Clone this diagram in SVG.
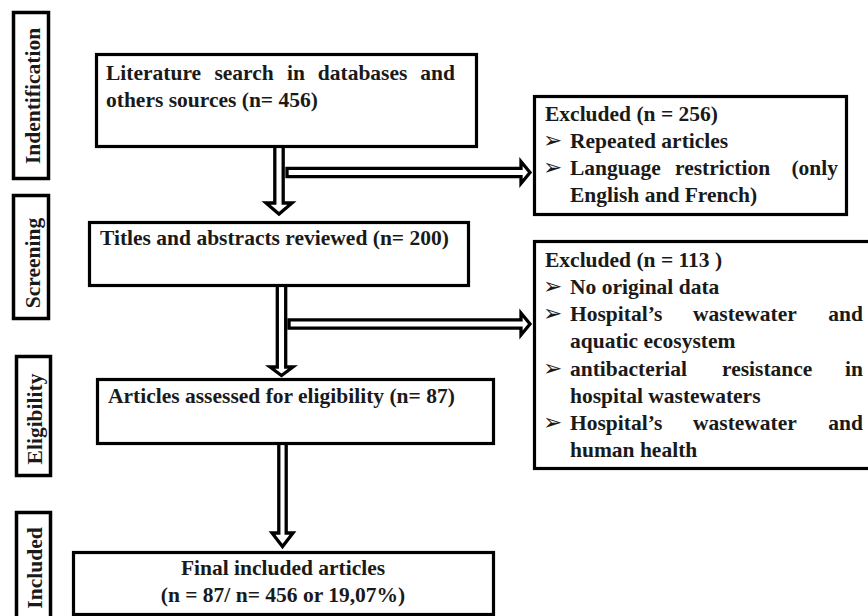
<svg xmlns="http://www.w3.org/2000/svg" width="868" height="616" viewBox="0 0 868 616">
<style>
.box{fill:#fff;stroke:#000;stroke-width:3.2}
.lbl{fill:none;stroke:#000;stroke-width:3.5}
.t{font-family:"Liberation Serif","Times New Roman",serif;font-weight:bold;font-size:21.5px;fill:#1a1a1a}
.b{font-family:"DejaVu Sans",sans-serif;font-size:23px;fill:#1a1a1a}
.arr{fill:#fff;stroke:#000;stroke-width:3.3;stroke-linejoin:miter}
</style>
<rect width="868" height="616" fill="#fff"/>
<g id="stage-labels">
<g id="lbl-identification"><rect class="lbl" x="13.5" y="12.5" width="35" height="166"/><text class="t" text-anchor="middle" transform="translate(40,96) rotate(-90)">Indentification</text></g>
<g id="lbl-screening"><rect class="lbl" x="13.5" y="195.5" width="35" height="123"/><text class="t" text-anchor="middle" transform="translate(40,263) rotate(-90)">Screening</text></g>
<g id="lbl-eligibility"><rect class="lbl" x="16.5" y="356.5" width="34" height="119"/><text class="t" text-anchor="middle" transform="translate(42,419) rotate(-90)">Eligibility</text></g>
<g id="lbl-included"><rect class="lbl" x="16.5" y="512.5" width="34" height="110"/><text class="t" text-anchor="middle" transform="translate(42,568) rotate(-90)">Included</text></g>
</g>
<g id="connectors">
<path class="arr" d="M274.8,146 L283.2,146 L283.2,203 L292,203 L279,214 L266,203 L274.8,203 Z"/>
<path class="arr" d="M287,168.3 L521,168.3 L521,161.5 L530,172.5 L521,183.5 L521,176.7 L287,176.7 Z"/>
<path class="arr" d="M277.3,284 L285.7,284 L285.7,367 L293,367 L281.5,375.5 L270,367 L277.3,367 Z"/>
<path class="arr" d="M289,319.8 L521,319.8 L521,313 L530,324 L521,335 L521,328.2 L289,328.2 Z"/>
<path class="arr" d="M278.8,443 L286.2,443 L286.2,533 L293,533 L282.5,546.5 L272,533 L278.8,533 Z"/>
</g>
<g id="n-search">
<rect class="box" x="96.5" y="54.5" width="380" height="92"/>
<text class="t" y="80"><tspan x="106">Literature</tspan><tspan x="214.4">search</tspan><tspan x="287">in</tspan><tspan x="317.8">databases</tspan><tspan x="420.3">and</tspan></text>
<text class="t" x="106" y="107">others sources (n= 456)</text>
</g>
<g id="n-excluded1">
<rect class="box" x="534.5" y="96.5" width="312" height="118"/>
<text class="t" x="545" y="121">Excluded (n = 256)</text>
<text class="b" x="543" y="148">➢</text><text class="t" x="570" y="148">Repeated articles</text>
<text class="b" x="543" y="175">➢</text>
<text class="t" y="175"><tspan x="570">Language</tspan><tspan x="675">restriction</tspan></text>
<text class="t" x="838" y="175" text-anchor="end">(only</text>
<text class="t" x="570" y="202">English and French)</text>
</g>
<g id="n-titles">
<rect class="box" x="89.5" y="222.5" width="379" height="63"/>
<text class="t" x="100" y="245">Titles and abstracts reviewed (n= 200)</text>
</g>
<g id="n-excluded2">
<rect class="box" x="534.5" y="241.5" width="400" height="227"/>
<text class="t" x="545" y="267">Excluded (n = 113 )</text>
<text class="b" x="543" y="294">➢</text><text class="t" x="570" y="294">No original data</text>
<text class="b" x="543" y="321">➢</text>
<text class="t" y="321"><tspan x="570">Hospital’s</tspan><tspan x="693">wastewater</tspan></text>
<text class="t" x="863" y="321" text-anchor="end">and</text>
<text class="t" x="570" y="348">aquatic ecosystem</text>
<text class="b" x="543" y="376">➢</text>
<text class="t" y="376"><tspan x="570">antibacterial</tspan><tspan x="722">resistance</tspan></text>
<text class="t" x="863" y="376" text-anchor="end">in</text>
<text class="t" x="570" y="403">hospital wastewaters</text>
<text class="b" x="543" y="430">➢</text>
<text class="t" y="430"><tspan x="570">Hospital’s</tspan><tspan x="693">wastewater</tspan></text>
<text class="t" x="863" y="430" text-anchor="end">and</text>
<text class="t" x="570" y="457">human health</text>
</g>
<g id="n-eligibility">
<rect class="box" x="97.5" y="379.5" width="396" height="64"/>
<text class="t" x="108" y="403">Articles assessed for eligibility (n= 87)</text>
</g>
<g id="n-included">
<rect class="box" x="73.5" y="552.5" width="420" height="62"/>
<text class="t" x="283" y="575" text-anchor="middle">Final included articles</text>
<text class="t" x="283" y="602" text-anchor="middle">(n = 87/ n= 456 or 19,07%)</text>
</g>
</svg>
